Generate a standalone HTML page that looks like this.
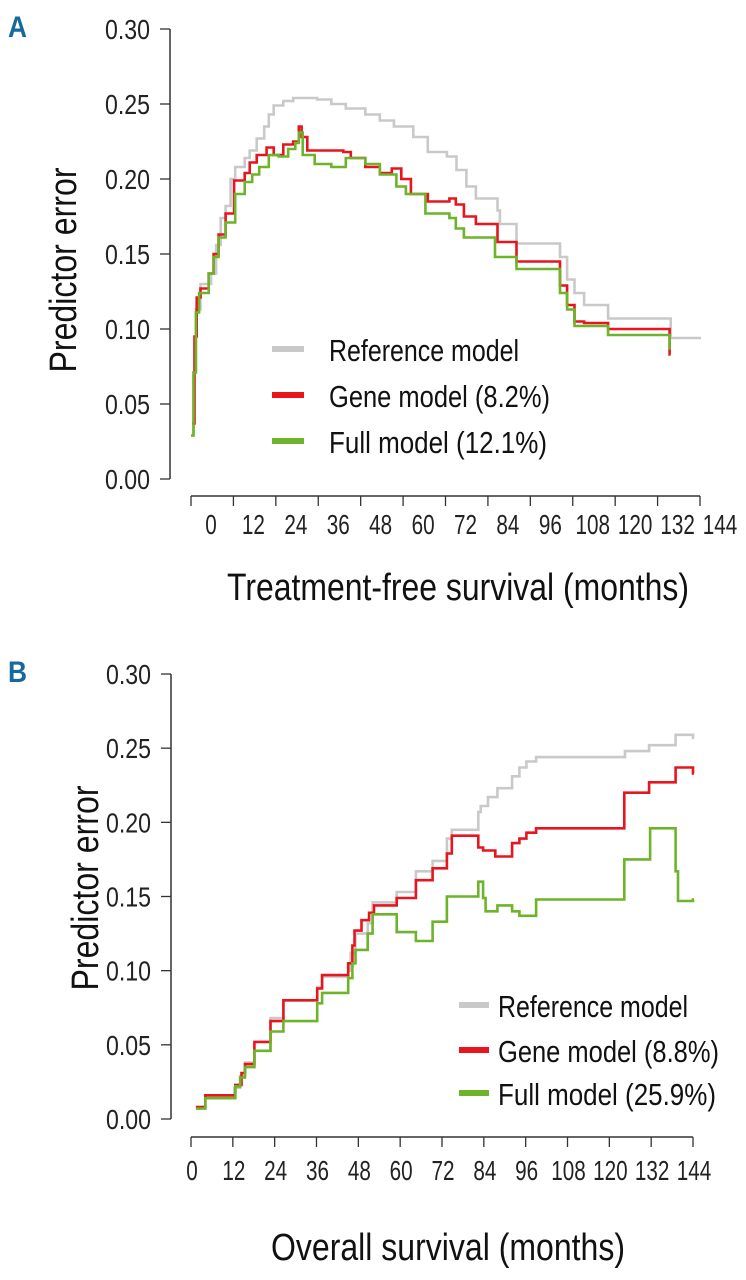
<!DOCTYPE html>
<html><head><meta charset="utf-8"><style>
html,body{margin:0;padding:0;background:#fff;}
svg{display:block;font-family:"Liberation Sans Narrow","Liberation Sans",sans-serif;}
</style></head><body>
<svg id="fig" width="746" height="1280" viewBox="0 0 746 1280" xmlns="http://www.w3.org/2000/svg"></svg>
<script>
// ---- Panel A data (months, predictor error) ----
const aRefX = [0.3,0.7,1.4,2.7,5.7,7.1,8.4,9.8,11.2,12.5,15.2,16.6,18.6,20.7,22,23.4,26.1,28.9,35.7,39.7,43.8,49.3,53.4,57.4,62.9,67,72.4,75.1,77.9,80.6,86.7,87.4,92.1,104.4,106.4,108.5,111.2,118,135.7,144];
const aRefY = [0.029,0.071,0.113,0.13,0.137,0.156,0.174,0.182,0.2,0.208,0.214,0.219,0.227,0.235,0.243,0.249,0.252,0.254,0.253,0.25,0.247,0.243,0.239,0.235,0.228,0.218,0.215,0.206,0.195,0.187,0.179,0.17,0.157,0.148,0.133,0.124,0.116,0.107,0.094,0.094];
const aGeneX = [0.3,1,1.6,2.7,5,6.4,7.8,9.8,12.2,15.2,16.6,18.6,21.4,23.4,26.1,28.9,30.5,31.3,32.9,43.1,45.2,49.3,53.4,56.8,59.5,62.2,67,73.1,74.9,77.2,80.6,86.7,92.1,104.4,106.4,108.5,111.2,118,135.4];
const aGeneY = [0.037,0.095,0.121,0.127,0.137,0.15,0.163,0.177,0.199,0.204,0.211,0.216,0.221,0.216,0.223,0.225,0.235,0.228,0.219,0.218,0.214,0.208,0.204,0.207,0.2,0.19,0.185,0.187,0.183,0.175,0.17,0.158,0.145,0.129,0.116,0.105,0.104,0.1,0.083];
const aFullX = [0,0.7,1.4,2.3,5,6.4,7.8,9.8,12.5,15.2,17.3,19.3,22,24.8,27.5,29.5,30.5,31.6,35,39.7,43.8,49.3,53.4,58.1,60.8,66.3,73.1,74.9,77.2,86,92.1,104.4,106.4,108.5,118,135.4];
const aFullY = [0.029,0.071,0.111,0.124,0.137,0.148,0.161,0.171,0.19,0.198,0.203,0.208,0.216,0.215,0.22,0.224,0.231,0.216,0.21,0.208,0.214,0.21,0.203,0.195,0.19,0.177,0.174,0.167,0.161,0.148,0.14,0.124,0.113,0.102,0.096,0.087];
// ---- Panel B data ----
const bRefX = [1.4,4.1,12.4,14.1,15.5,18.2,22.8,26.5,36.2,37.6,45.1,45.8,47.2,50.7,52.1,59,64.5,69.3,73.4,74.8,82.4,83.1,85.2,87.9,92.1,94.2,96.2,99,124.5,131.4,139,144];
const bRefY = [0.008,0.015,0.021,0.029,0.038,0.046,0.068,0.08,0.089,0.096,0.1,0.112,0.125,0.132,0.146,0.153,0.167,0.174,0.189,0.195,0.207,0.211,0.217,0.223,0.231,0.237,0.241,0.244,0.248,0.252,0.259,0.257];
const bGeneX = [1.4,4.1,12.7,14.5,15.5,18.2,22.8,26.5,36.2,37.6,45.1,46.3,46.9,48.9,51.1,52.5,59,64.5,69.3,73.4,74.8,82.4,83.8,87.3,92.1,94.2,96.2,99,124.3,131.4,139,144];
const bGeneY = [0.008,0.016,0.023,0.031,0.037,0.052,0.066,0.08,0.088,0.097,0.105,0.117,0.127,0.134,0.139,0.144,0.149,0.161,0.169,0.179,0.191,0.183,0.181,0.177,0.186,0.189,0.193,0.196,0.22,0.227,0.237,0.233];
const bFullX = [1.4,4.1,12.7,14.1,15.5,18.2,22.8,26.5,36.2,37.6,45.1,46.3,47.2,50.7,52.1,59,64.5,69.3,73.4,82.4,83.8,84.5,87.9,92.1,94.2,99,124.3,131.7,139,139.7,144];
const bFullY = [0.007,0.014,0.022,0.028,0.035,0.046,0.059,0.066,0.078,0.085,0.095,0.105,0.114,0.125,0.138,0.126,0.12,0.133,0.15,0.16,0.149,0.14,0.144,0.14,0.137,0.148,0.175,0.196,0.167,0.147,0.148];
const yTicks = ["0.00","0.05","0.10","0.15","0.20","0.25","0.30"];
const xTicks = ["0","12","24","36","48","60","72","84","96","108","120","132","144"];

const NS = "http://www.w3.org/2000/svg";
const svg = document.getElementById('fig');
function mk(tag, attrs, parent, text){
  const e = document.createElementNS(NS, tag);
  for (const k in attrs) e.setAttribute(k, attrs[k]);
  if (text !== undefined) e.textContent = text;
  (parent || svg).appendChild(e);
  return e;
}
const COL = {ref:"#c9c9c9", gene:"#e8141e", full:"#6db42a"};

function panel(cfg){
  const g = mk('g', {});
  
  
  const sx = m => cfg.x0 + (m/144)*(cfg.x1 - cfg.x0);
  const sy = v => cfg.yb - (v/0.30)*(cfg.yb - cfg.yt);
  const L = mk('text', {x:8, y:cfg.yt+8, 'font-size':30, 'font-weight':'bold', fill:'#17699c', 'font-family':'Liberation Sans, sans-serif', textLength:19, lengthAdjust:'spacingAndGlyphs'}, g, cfg.letter);
  
  
  const ya = mk('line', {x1:cfg.ax, y1:sy(0.30), x2:cfg.ax, y2:sy(0), stroke:'#333', 'stroke-width':1.5}, g);
  
  
  yTicks.forEach(t => {
    const v = parseFloat(t);
    mk('line', {x1:cfg.ax-10, y1:sy(v), x2:cfg.ax, y2:sy(v), stroke:'#333', 'stroke-width':1.3}, g);
    const tl = mk('text', {x:cfg.ax-65, y:sy(v)+10, 'font-size':28, fill:'#222', textLength:45, lengthAdjust:'spacingAndGlyphs'}, g, t);
    
    
  });
  const xa = mk('line', {x1:sx(0), y1:cfg.xa, x2:sx(144), y2:cfg.xa, stroke:'#333', 'stroke-width':1.5}, g);
  
  
  xTicks.forEach(t => {
    const m = parseFloat(t);
    mk('line', {x1:sx(m), y1:cfg.xa, x2:sx(m), y2:cfg.xa+10, stroke:'#333', 'stroke-width':1.3}, g);
    const w = t.length*11.5;
    const tl = mk('text', {x:sx(m)+cfg.lblOff-w/2, y:cfg.xa+cfg.lblDy, 'font-size':28, fill:'#222', textLength:w, lengthAdjust:'spacingAndGlyphs'}, g, t);
    
    
  });
  const yt = mk('text', {x:0, y:0, 'font-size':38, 'text-anchor':'middle', fill:'#111', transform:`translate(${cfg.ytx},${cfg.yty}) rotate(-90)`, textLength:205, lengthAdjust:'spacingAndGlyphs'}, g, 'Predictor error');
  
  
  const xt = mk('text', {x:cfg.xtx, y:cfg.xty, 'font-size':38, 'text-anchor':'middle', fill:'#111', textLength:cfg.xtw, lengthAdjust:'spacingAndGlyphs'}, g, cfg.xtitle);
  
  
  cfg.series.forEach(s => {
    let d = '';
    s.x.forEach((m, i) => {
      if (i === 0) d += `M${sx(m).toFixed(1)},${sy(s.y[i]).toFixed(1)}`;
      else d += `H${sx(m).toFixed(1)}V${sy(s.y[i]).toFixed(1)}`;
    });
    d += 'h1';
    const p = mk('path', {d:d, fill:'none', stroke:s.c, 'stroke-width':2.6, 'stroke-linejoin':'miter'}, g);
    
    
  });
  cfg.series.forEach((s, i) => {
    const ly = cfg.legY[i];
    const lg = mk('g', {}, g);
    
    
    mk('line', {x1:cfg.legX, y1:ly, x2:cfg.legX+cfg.legW, y2:ly, stroke:s.c, 'stroke-width':6}, lg);
    mk('text', {x:cfg.legTX, y:ly+12, 'font-size':31, fill:'#111', textLength:s.tw, lengthAdjust:'spacingAndGlyphs'}, lg, s.label);
  });
}

panel({name:'panel-a-treatment-free', letter:'A', ax:170, x0:191, x1:700, yt:29, yb:479, xa:496,
  lblOff:20, lblDy:38, ytx:76, yty:270, xtx:458, xty:600, xtw:462, xtitle:'Treatment-free survival (months)',
  legX:272, legW:32, legTX:329, legY:[349,395,441],
  series:[
    {name:'reference-model-line-a', x:aRefX, y:aRefY, c:COL.ref, label:'Reference model', tw:190},
    {name:'gene-model-line-a', x:aGeneX, y:aGeneY, c:COL.gene, label:'Gene model (8.2%)', tw:221},
    {name:'full-model-line-a', x:aFullX, y:aFullY, c:COL.full, label:'Full model (12.1%)', tw:218}
  ]});

panel({name:'panel-b-overall', letter:'B', ax:171, x0:191, x1:693, yt:674, yb:1119, xa:1137,
  lblOff:1, lblDy:43, ytx:98, yty:888, xtx:448, xty:1260, xtw:354, xtitle:'Overall survival (months)',
  legX:459, legW:30, legTX:498, legY:[1005,1050,1093],
  series:[
    {name:'reference-model-line-b', x:bRefX, y:bRefY, c:COL.ref, label:'Reference model', tw:190},
    {name:'gene-model-line-b', x:bGeneX, y:bGeneY, c:COL.gene, label:'Gene model (8.8%)', tw:221},
    {name:'full-model-line-b', x:bFullX, y:bFullY, c:COL.full, label:'Full model (25.9%)', tw:218}
  ]});
</script>
</body></html>
